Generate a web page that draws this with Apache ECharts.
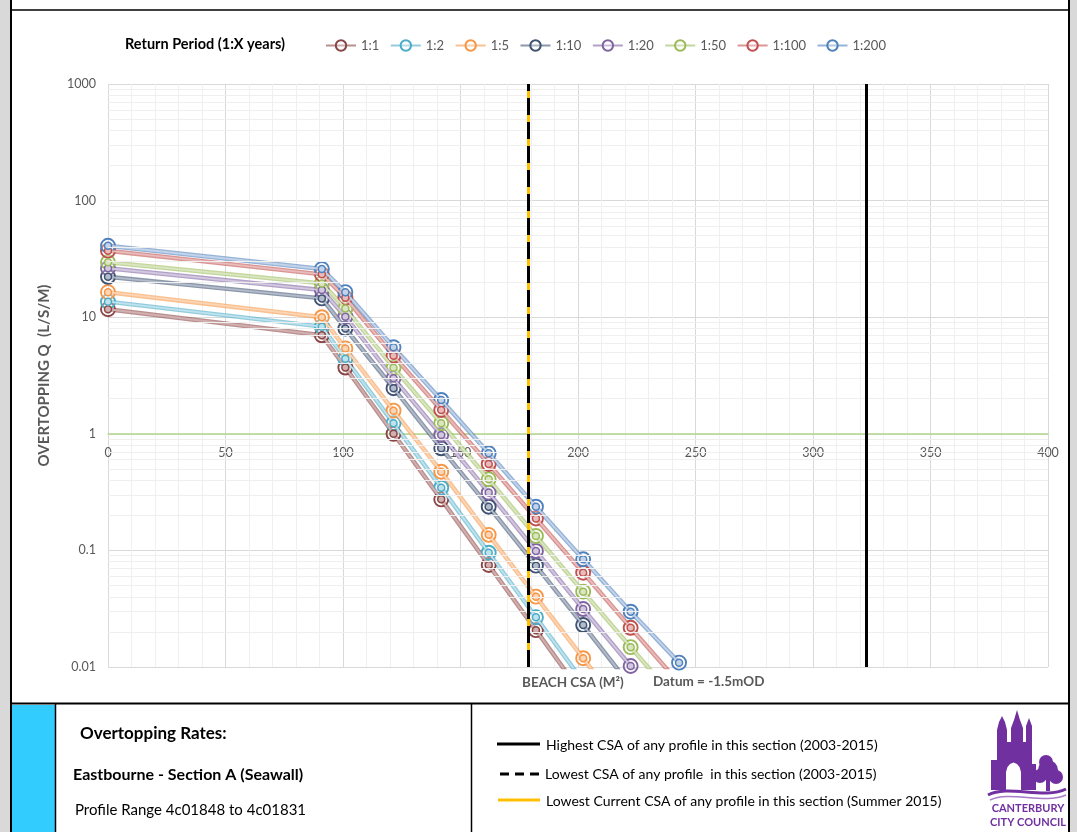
<!DOCTYPE html>
<html>
<head>
<meta charset="utf-8">
<script src="https://cdn.jsdelivr.net/npm/echarts@6/dist/echarts.min.js"></script>
<style>
  html, body { margin: 0; padding: 0; background: #ffffff; }
  #chart { width: 1077px; height: 832px; }
</style>
</head>
<body>
<div id="chart"></div>
<script>
// Return periods (1:X years) shown in the legend
const returnPeriods = ['1:1', '1:2', '1:5', '1:10', '1:20', '1:50', '1:100', '1:200'];

// Beach cross-sectional area (m²) at which overtopping was modelled
const beachCsa = [0, 91, 101, 121.5, 141.8, 162, 182.1, 202.2, 222.4, 243];

// Overtopping rate Q (l/s/m) for each return period, one value per beachCsa entry
const q1   = [11.7, 7.0, 3.7, 1.00, 0.274, 0.075, 0.0207, 0.0057];
const q2   = [13.6, 8.3, 4.4, 1.23, 0.345, 0.0955, 0.0267, 0.0075];
const q5   = [16.4, 10.0, 5.4, 1.58, 0.473, 0.136, 0.0401, 0.0119, 0.0034];
const q10  = [22.2, 14.5, 8.0, 2.46, 0.751, 0.237, 0.074, 0.0229, 0.0069];
const q20  = [26.3, 17.1, 10.1, 2.99, 0.977, 0.313, 0.0988, 0.0314, 0.0102, 0.0031];
const q50  = [29.6, 19.5, 11.9, 3.69, 1.23, 0.407, 0.133, 0.0443, 0.0148, 0.0049];
const q100 = [37.2, 23.3, 14.7, 4.67, 1.60, 0.551, 0.188, 0.0644, 0.0217, 0.0073];
const q200 = [41.0, 25.9, 16.4, 5.52, 1.95, 0.681, 0.237, 0.0839, 0.0298, 0.0109];
const overtopping = [q1, q2, q5, q10, q20, q50, q100, q200];

// Section CSA reference values (m²)
const csaHighest = 322.8;   // highest CSA of any profile 2003-2015
const csaLowest = 178.7;    // lowest CSA of any profile 2003-2015
const csaCurrent = 178.7;   // lowest current CSA, summer 2015

// Log-scale minor gridline positions
const logDecades = [0.01, 0.1, 1, 10, 100];
const logMinorSteps = [2, 3, 4, 5, 6, 7, 8, 9];

// Line colours per return period: [ring / edge colour, light core colour]
const palette = [
  ['#8a4545', '#d2b0b0'],
  ['#4bacc6', '#bfe3ee'],
  ['#f79646', '#fcd5b5'],
  ['#3f5272', '#b3bccb'],
  ['#8064a2', '#d2c8e0'],
  ['#9bbb59', '#d9e6c0'],
  ['#c0504d', '#e9bcbb'],
  ['#4f81bd', '#c3d4ea']
];

function hexToRgba(hex, a) {
  const n = parseInt(hex.slice(1), 16);
  return 'rgba(' + ((n >> 16) & 255) + ',' + ((n >> 8) & 255) + ',' + (n & 255) + ',' + a + ')';
}

const series = [];
returnPeriods.forEach(function (name, i) {
  const pts = overtopping[i].map(function (v, j) { return [beachCsa[j], v]; });
  const edge = palette[i][0];
  const core = palette[i][1];
  // outer band of the double line plus the outer ring of each marker
  series.push({
    name: name,
    type: 'line',
    data: pts,
    z: 3,
    symbol: 'circle',
    symbolSize: 14,
    showAllSymbol: true,
    lineStyle: { color: hexToRgba(edge, 0.6), width: 4.5 },
    itemStyle: { color: 'rgba(255,255,255,0.3)', borderColor: edge, borderWidth: 1.9 },
    emphasis: { disabled: true }
  });
  // light core of the double line plus the inner ring of each marker
  series.push({
    name: name,
    type: 'line',
    data: pts,
    z: 4,
    symbol: 'circle',
    symbolSize: 7,
    showAllSymbol: true,
    lineStyle: { color: core, width: 1.8 },
    itemStyle: { color: core, borderColor: edge, borderWidth: 1.5 },
    emphasis: { disabled: true }
  });
});

// minor horizontal gridlines for the log axis
const minorY = [];
logDecades.forEach(function (d) {
  logMinorSteps.forEach(function (s) { minorY.push({ yAxis: +(d * s).toPrecision(6) }); });
});
series.unshift({
  name: 'log-minor-grid',
  type: 'line',
  data: [],
  z: 1,
  silent: true,
  markLine: {
    silent: true,
    symbol: ['none', 'none'],
    label: { show: false },
    lineStyle: { color: '#efefef', width: 1, type: 'solid' },
    emphasis: { disabled: true },
    animation: false,
    data: minorY
  }
});

// CSA reference lines
series.push({
  name: 'csa-lines',
  type: 'line',
  data: [],
  z: 6,
  silent: true,
  markLine: {
    silent: true,
    symbol: ['none', 'none'],
    label: { show: false },
    emphasis: { disabled: true },
    animation: false,
    data: [
      { xAxis: csaCurrent, lineStyle: { color: '#ffc000', width: 3, type: 'solid' } },
      { xAxis: csaLowest, lineStyle: { color: '#000000', width: 3, type: [17, 7] } },
      { xAxis: csaHighest, lineStyle: { color: '#000000', width: 3, type: 'solid' } }
    ]
  }
});

const purple = '#7030a0';
const font = 'Lato, "Noto Sans", sans-serif';

const graphics = [
  // page frame
  { type: 'rect', shape: { x: 0, y: 0, width: 10, height: 832 }, style: { fill: '#d9d9d9' }, silent: true },
  { type: 'rect', shape: { x: 1070, y: 0, width: 7, height: 832 }, style: { fill: '#d9d9d9' }, silent: true },
  { type: 'line', shape: { x1: 11, y1: 0, x2: 11, y2: 832 }, style: { stroke: '#000', lineWidth: 2 }, silent: true },
  { type: 'line', shape: { x1: 1069, y1: 0, x2: 1069, y2: 832 }, style: { stroke: '#000', lineWidth: 2 }, silent: true },
  { type: 'line', shape: { x1: 11, y1: 10, x2: 1069, y2: 10 }, style: { stroke: '#000', lineWidth: 1.5 }, silent: true },

  // legend heading
  { type: 'text', x: 125, y: 44, style: { text: 'Return Period (1:X years)', font: 'bold 14.5px ' + font, fill: '#000', verticalAlign: 'middle' }, silent: true },

  // x axis title
  { type: 'text', x: 522, y: 683, style: { text: 'BEACH CSA (M²)', font: 'bold 13.5px ' + font, fill: '#595959', verticalAlign: 'middle' }, silent: true },
  { type: 'text', x: 653, y: 682, style: { text: 'Datum = -1.5mOD', font: 'bold 13.5px ' + font, fill: '#595959', verticalAlign: 'middle' }, silent: true },

  // info panel
  { type: 'line', shape: { x1: 11, y1: 703.5, x2: 1069, y2: 703.5 }, style: { stroke: '#000', lineWidth: 2 }, silent: true },
  { type: 'rect', shape: { x: 12, y: 705, width: 43, height: 127 }, style: { fill: '#33ccff' }, silent: true },
  { type: 'line', shape: { x1: 55.5, y1: 703, x2: 55.5, y2: 832 }, style: { stroke: '#000', lineWidth: 1.5 }, silent: true },
  { type: 'line', shape: { x1: 471.5, y1: 703, x2: 471.5, y2: 832 }, style: { stroke: '#000', lineWidth: 1.5 }, silent: true },
  { type: 'text', x: 80, y: 734, style: { text: 'Overtopping Rates:', font: 'bold 17px ' + font, fill: '#000', verticalAlign: 'middle' }, silent: true },
  { type: 'text', x: 73, y: 775, style: { text: 'Eastbourne - Section A (Seawall)', font: 'bold 16px ' + font, fill: '#000', verticalAlign: 'middle' }, silent: true },
  { type: 'text', x: 75, y: 810, style: { text: 'Profile Range 4c01848 to 4c01831', font: '15px ' + font, fill: '#000', verticalAlign: 'middle' }, silent: true },

  // key for the CSA lines
  { type: 'line', shape: { x1: 497, y1: 744, x2: 540, y2: 744 }, style: { stroke: '#000', lineWidth: 3 }, silent: true },
  { type: 'text', x: 546, y: 745, style: { text: 'Highest CSA of any profile in this section (2003-2015)', font: '14px ' + font, fill: '#000', verticalAlign: 'middle' }, silent: true },
  { type: 'line', shape: { x1: 500, y1: 774, x2: 541, y2: 774 }, style: { stroke: '#000', lineWidth: 3, lineDash: [9, 6] }, silent: true },
  { type: 'text', x: 545, y: 774, style: { text: 'Lowest CSA of any profile  in this section (2003-2015)', font: '14px ' + font, fill: '#000', verticalAlign: 'middle' }, silent: true },
  { type: 'line', shape: { x1: 498, y1: 800, x2: 540, y2: 800 }, style: { stroke: '#ffc000', lineWidth: 3 }, silent: true },
  { type: 'text', x: 546, y: 801, style: { text: 'Lowest Current CSA of any profile in this section (Summer 2015)', font: '14px ' + font, fill: '#000', verticalAlign: 'middle' }, silent: true },

  // council emblem: cathedral, tree and river
  { type: 'polygon', shape: { points: [[997, 790], [997, 730], [999, 722], [1002, 716], [1005, 722], [1007, 730], [1007, 742], [1011, 742], [1011, 728], [1014, 720], [1017, 710], [1020, 720], [1023, 728], [1023, 742], [1026, 742], [1026, 726], [1029, 718], [1032, 726], [1032, 790]] }, style: { fill: purple }, silent: true },
  { type: 'rect', shape: { x: 991, y: 760, width: 8, height: 30 }, style: { fill: purple }, silent: true },
  { type: 'rect', shape: { x: 1030, y: 764, width: 6, height: 26 }, style: { fill: purple }, silent: true },
  { type: 'polygon', shape: { points: [[1006, 791], [1006, 772], [1007.5, 767], [1010, 764], [1013.5, 762.5], [1017, 764], [1019.5, 767], [1021, 772], [1021, 791]] }, style: { fill: '#ffffff' }, silent: true },
  { type: 'circle', shape: { cx: 1048, cy: 770, r: 10 }, style: { fill: purple }, silent: true },
  { type: 'circle', shape: { cx: 1040, cy: 776, r: 7 }, style: { fill: purple }, silent: true },
  { type: 'circle', shape: { cx: 1056, cy: 777, r: 7 }, style: { fill: purple }, silent: true },
  { type: 'circle', shape: { cx: 1046, cy: 762, r: 7 }, style: { fill: purple }, silent: true },
  { type: 'rect', shape: { x: 1046, y: 778, width: 4, height: 13 }, style: { fill: purple }, silent: true },
  { type: 'bezierCurve', shape: { x1: 988, y1: 795, cpx1: 1008, cpy1: 784, cpx2: 1044, cpy2: 800, x2: 1066, y2: 789 }, style: { fill: 'none', stroke: purple, lineWidth: 3 }, silent: true },
  { type: 'bezierCurve', shape: { x1: 990, y1: 800, cpx1: 1010, cpy1: 790, cpx2: 1044, cpy2: 805, x2: 1066, y2: 795 }, style: { fill: 'none', stroke: '#a77cc8', lineWidth: 1.5 }, silent: true },
  { type: 'text', x: 1028, y: 808, style: { text: 'CANTERBURY', font: 'bold 11px ' + font, fill: purple, align: 'center', verticalAlign: 'middle' }, silent: true },
  { type: 'text', x: 1028, y: 822, style: { text: 'CITY COUNCIL', font: 'bold 11px ' + font, fill: purple, align: 'center', verticalAlign: 'middle' }, silent: true }
];

const chart = echarts.init(document.getElementById('chart'), null, { renderer: 'canvas' });
chart.setOption({
  animation: false,
  backgroundColor: '#ffffff',
  textStyle: { fontFamily: font },
  grid: { left: 108, right: 29, top: 84, height: 583, containLabel: false },
  legend: {
    data: returnPeriods,
    left: 320,
    top: 34,
    itemWidth: 30,
    itemHeight: 13,
    itemGap: 10.5,
    selectedMode: false,
    textStyle: { color: '#595959', fontSize: 13, fontFamily: font }
  },
  xAxis: {
    type: 'value',
    min: 0,
    max: 400,
    interval: 50,
    offset: -233.2,
    axisLine: { show: true, lineStyle: { color: '#b4d68f', width: 1.5 } },
    axisTick: { show: false },
    axisLabel: { color: '#595959', fontSize: 12.5, margin: 13 },
    splitLine: { show: true, lineStyle: { color: '#d9d9d9', width: 1 } },
    minorTick: { show: false, splitNumber: 5 },
    minorSplitLine: { show: true, lineStyle: { color: '#f0f0f0', width: 1 } }
  },
  yAxis: {
    type: 'log',
    logBase: 10,
    min: 0.01,
    max: 1000,
    axisLine: { show: false },
    axisTick: { show: false },
    axisLabel: {
      color: '#595959',
      fontSize: 12.5,
      margin: 12,
      formatter: function (v) { return String(Number(Number(v).toPrecision(6))); }
    },
    splitLine: { show: true, lineStyle: { color: '#d9d9d9', width: 1 } },
    name: 'OVERTOPPING Q  (L/S/M)',
    nameLocation: 'middle',
    nameRotate: 90,
    nameGap: 56,
    nameTextStyle: { color: '#595959', fontSize: 15, fontWeight: 'bold', fontFamily: font }
  },
  series: series,
  graphic: { elements: graphics }
});
</script>
</body>
</html>
